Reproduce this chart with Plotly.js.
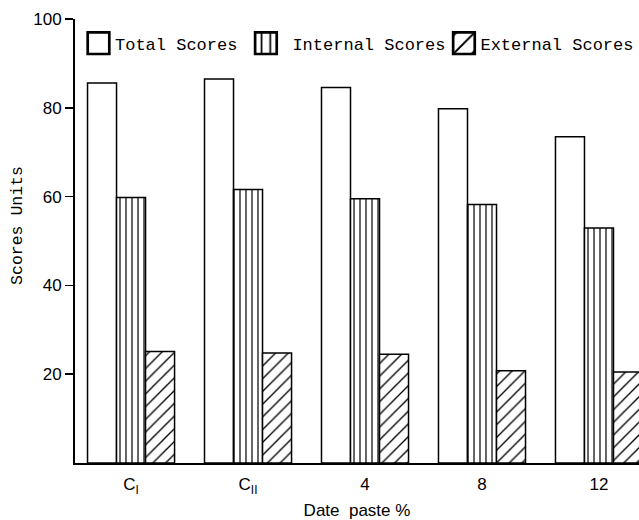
<!DOCTYPE html>
<html>
<head>
<meta charset="utf-8">
<script src="https://cdn.plot.ly/plotly-3.0.1.min.js"></script>
<style>html,body{margin:0;padding:0;background:#fff;}</style>
</head>
<body>
<div id="chart" style="width:639px;height:520px;"></div>
<script>
const categories = ["C<sub>I</sub>", "C<sub>II</sub>", "4", "8", "12"];
const totalScores = [85.6, 86.5, 84.6, 79.8, 73.5];
const internalScores = [59.8, 61.6, 59.5, 58.2, 52.9];
const externalScores = [25.1, 24.8, 24.5, 20.8, 20.5];
const seriesNames = ["Total Scores", "Internal Scores", "External Scores"];
const yTicks = [20, 40, 60, 80, 100];

const line = {color: "#000", width: 1.5};
const traces = [
  {type: "bar", name: seriesNames[0], x: categories, y: totalScores,
   marker: {color: "#fff", line: line}},
  {type: "bar", name: seriesNames[1], x: categories, y: internalScores,
   marker: {color: "#fff", line: line,
     pattern: {shape: "|", size: 6, solidity: 0.2, fgcolor: "#000", bgcolor: "#fff", fillmode: "replace"}}},
  {type: "bar", name: seriesNames[2], x: categories, y: externalScores,
   marker: {color: "#fff", line: line,
     pattern: {shape: "/", size: 9, solidity: 0.15, fgcolor: "#000", bgcolor: "#fff", fillmode: "replace"}}}
];

const layout = {
  width: 639, height: 520,
  margin: {l: 75, r: 0, t: 19, b: 57, pad: 0},
  paper_bgcolor: "#fff", plot_bgcolor: "#fff",
  barmode: "group", bargap: 0.256, bargroupgap: 0,
  showlegend: true,
  legend: {orientation: "h", x: 0, xanchor: "left", y: 0.985, yanchor: "top",
    font: {family: "Liberation Mono", size: 17, color: "#000"},
    bgcolor: "rgba(0,0,0,0)", traceorder: "normal"},
  xaxis: {type: "category", range: [-0.479, 4.342], showline: true, linecolor: "#000", linewidth: 2,
    ticks: "", showgrid: false, zeroline: false, ticklabelstandoff: 5,
    tickfont: {family: "Liberation Sans", size: 17, color: "#000"},
    title: {text: "Date  paste %", standoff: 10, font: {family: "Liberation Sans", size: 17, color: "#000"}}},
  yaxis: {range: [0, 100], tickvals: yTicks, ticktext: yTicks.map(String), showline: true, linecolor: "#000", linewidth: 2,
    ticks: "outside", ticklen: 8, tickwidth: 1.5, tickcolor: "#000", showgrid: false, zeroline: false,
    tickfont: {family: "Liberation Sans", size: 17, color: "#000"}},
  annotations: [{text: "Scores Units", xref: "paper", yref: "paper", x: -0.103, y: 0.536,
    textangle: -90, showarrow: false, xanchor: "center", yanchor: "middle",
    font: {family: "Liberation Mono", size: 16.5, color: "#000"}}]
};

Plotly.newPlot("chart", traces, layout, {displayModeBar: false, staticPlot: true}).then(function(gd){
  document.querySelectorAll(".legend .legendpoints path").forEach(function(p){
    p.setAttribute("transform", "translate(23.5,0) scale(1.8)");
  });
  const items = document.querySelectorAll(".legend .traces");
  if (items.length > 1) {
    const t = items[1].querySelector("text.legendtext");
    if (t) t.setAttribute("x", String(parseFloat(t.getAttribute("x") || "0") + 10));
  }
});
</script>
</body>
</html>
